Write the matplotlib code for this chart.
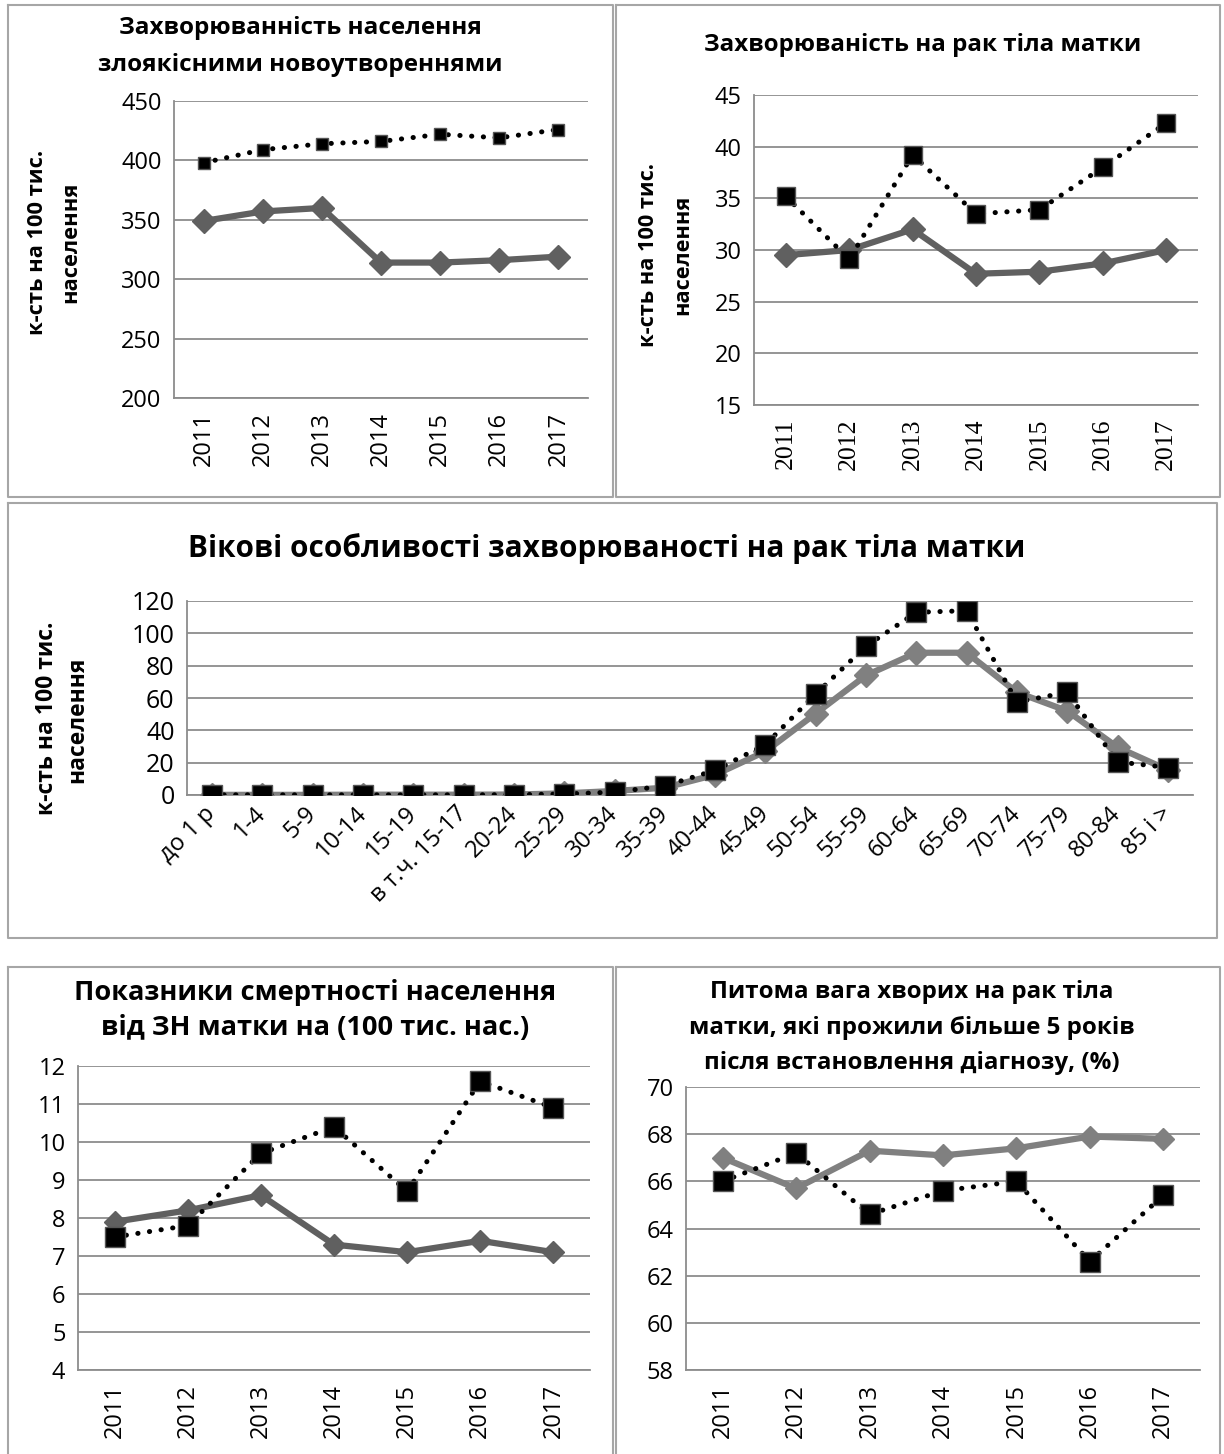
import matplotlib
matplotlib.use('Agg')
import matplotlib.pyplot as plt
import matplotlib.transforms as mtransforms
from matplotlib.lines import Line2D

W, H, DPI = 1224, 1454, 100
plt.rcParams['font.family'] = ['Open Sans', 'DejaVu Sans']

# ---------------- data ----------------
years = ['2011', '2012', '2013', '2014', '2015', '2016', '2017']

tl_title = ['Захворюванність населення', 'злоякісними новоутвореннями']
tl_solid = [349, 357, 360, 314, 314, 316, 319]
tl_dot = [398, 409, 414, 416, 422, 419, 426]
tl_ticks = [200, 250, 300, 350, 400, 450]

tr_title = ['Захворюваність на рак тіла матки']
tr_solid = [29.5, 30.0, 32.0, 27.7, 27.9, 28.7, 30.0]
tr_dot = [35.2, 29.1, 39.2, 33.5, 33.9, 38.0, 42.3]
tr_ticks = [15, 20, 25, 30, 35, 40, 45]

mid_title = ['Вікові особливості захворюваності на рак тіла матки']
age_groups = ['до 1 р', '1-4', '5-9', '10-14', '15-19', 'в т.ч. 15-17', '20-24',
              '25-29', '30-34', '35-39', '40-44', '45-49', '50-54', '55-59',
              '60-64', '65-69', '70-74', '75-79', '80-84', '85 і >']
age_solid = [0.1, 0.1, 0.1, 0.2, 0.2, 0.2, 0.3, 1.0, 2.5, 4.5, 12.5, 27.0,
             50.4, 74.0, 88.0, 88.0, 63.5, 52.0, 29.5, 15.5]
age_dot = [0.1, 0.1, 0.1, 0.1, 0.1, 0.1, 0.2, 0.6, 1.8, 5.6, 15.3, 31.2,
           62.5, 92.0, 113.0, 114.0, 57.5, 63.5, 20.5, 17.0]
mid_ticks = [0, 20, 40, 60, 80, 100, 120]

bl_title = ['Показники смертності населення', 'від ЗН матки на (100 тис. нас.)']
bl_solid = [7.9, 8.2, 8.6, 7.3, 7.1, 7.4, 7.1]
bl_dot = [7.5, 7.8, 9.7, 10.4, 8.7, 11.6, 10.9]
bl_ticks = [4, 5, 6, 7, 8, 9, 10, 11, 12]

br_title = ['Питома вага хворих на рак тіла', 'матки, які прожили більше 5 років',
            'після встановлення діагнозу, (%)']
br_solid = [67.0, 65.7, 67.3, 67.1, 67.4, 67.9, 67.8]
br_dot = [66.0, 67.2, 64.6, 65.6, 66.0, 62.6, 65.4]
br_ticks = [58, 60, 62, 64, 66, 68, 70]

ylab = ['к-сть на 100 тис.', 'населення']

# ---------------- figure ----------------
fig = plt.figure(figsize=(W / DPI, H / DPI), dpi=DPI)
fig.patch.set_facecolor('white')
renderer = fig.canvas.get_renderer()

GRID = '#8c8c8c'
BORDER = '#a6a6a6'


def rect(l, t, r, b):
    return [l / W, 1 - b / H, (r - l) / W, (b - t) / H]


def border(l, t, r, b):
    xs = [l, r, r, l, l]
    ys = [t, t, b, b, t]
    fig.add_artist(Line2D([x / W for x in xs], [1 - y / H for y in ys],
                          transform=fig.transFigure, color=BORDER, lw=1.5))


def fit_lines(lines, cx, ys, target, rotation=0, xs=None, size0=16, weight='bold'):
    # choose one font size so that the longest line spans `target` pixels
    probe = fig.text(0, 0, max(lines, key=len), fontsize=size0, weight=weight,
                     rotation=rotation)
    bb = probe.get_window_extent(renderer=renderer)
    meas = bb.width if rotation == 0 else bb.height
    probe.remove()
    fs = size0 * target / meas
    for i, s in enumerate(lines):
        x = cx if xs is None else xs[i]
        y = ys[i]
        fig.text(x / W, 1 - y / H, s, fontsize=fs, weight=weight, rotation=rotation,
                 ha='center', va='center', color='black')
    return fs


def make_axes(box, cats, solid, dot, ticks, solid_color, sq_size, dia_size,
              tick_fs=17, year_font=None, mid=False):
    ax = fig.add_axes(rect(*box))
    x = list(range(len(cats)))
    ax.plot(x, solid, color=solid_color, lw=4.5, marker='D', ms=dia_size,
            mfc=solid_color, mec=solid_color, zorder=3)
    ax.plot(x, dot, color='black', lw=3.6, linestyle=(0, (0.05, 2.3)),
            dash_capstyle='round', marker='s', ms=sq_size, mfc='black',
            mec='#555555', mew=1.0, zorder=4)
    ax.set_xlim(-0.5, len(cats) - 0.5)
    ax.set_ylim(ticks[0], ticks[-1])
    ax.set_yticks(ticks)
    ax.set_yticklabels([str(t) for t in ticks], fontsize=tick_fs)
    ax.set_xticks(x)
    if mid:
        ax.set_xticklabels(cats, fontsize=17, rotation=45, ha='right',
                           va='center', rotation_mode='anchor')
        ax.tick_params(axis='x', pad=11)
        shift = mtransforms.ScaledTranslation(8 / DPI, 0, fig.dpi_scale_trans)
        for lbl in ax.get_xticklabels():
            lbl.set_transform(lbl.get_transform() + shift)
    else:
        kw = {}
        if year_font:
            kw['family'] = year_font
        ax.set_xticklabels(cats, fontsize=17 if not year_font else 18.5,
                           rotation=90, va='top', ha='center', **kw)
        ax.tick_params(axis='x', pad=10)
    ax.tick_params(axis='both', length=0)
    ax.tick_params(axis='y', pad=9)
    ax.grid(axis='y', color=GRID, lw=1.3)
    ax.set_axisbelow(True)
    for s in ['top', 'right']:
        ax.spines[s].set_visible(False)
    for s in ['left', 'bottom']:
        ax.spines[s].set_color(GRID)
        ax.spines[s].set_linewidth(1.3)
    return ax


# panel borders
border(8, 5, 613, 497)
border(616, 5, 1220, 497)
border(8, 503, 1217, 938)
border(8, 967, 613, 1470)
border(616, 967, 1220, 1470)

# top-left
make_axes((174, 101, 588, 398), years, tl_solid, tl_dot, tl_ticks, '#606060',
          sq_size=8.5, dia_size=12)
fit_lines(tl_title, 300, [28, 65], 406)
fit_lines(ylab, None, [242, 242], 185, rotation=90, xs=[38, 71])

# top-right
make_axes((754, 95, 1198, 405), years, tr_solid, tr_dot, tr_ticks, '#606060',
          sq_size=12.5, dia_size=12.5, year_font=['Liberation Serif', 'DejaVu Serif'])
fit_lines(tr_title, 923, [45], 436)
fit_lines(ylab, None, [255, 255], 184, rotation=90, xs=[649, 683])

# middle
make_axes((187, 601, 1193, 795), age_groups, age_solid, age_dot, mid_ticks, '#808080',
          sq_size=14, dia_size=12.5, tick_fs=18, mid=True)
fit_lines(mid_title, 607, [549], 835)
fit_lines(ylab, None, [718, 720], 193, rotation=90, xs=[47, 77])

# bottom-left
make_axes((78, 1066, 590, 1370), years, bl_solid, bl_dot, bl_ticks, '#606060',
          sq_size=14, dia_size=11)
fit_lines(bl_title, 315, [992, 1028], 428)

# bottom-right
make_axes((686, 1087, 1200, 1370), years, br_solid, br_dot, br_ticks, '#808080',
          sq_size=14, dia_size=11)
fit_lines(br_title, 912, [992, 1028, 1063], 447)

fig.savefig('out.png', dpi=DPI, facecolor='white')
